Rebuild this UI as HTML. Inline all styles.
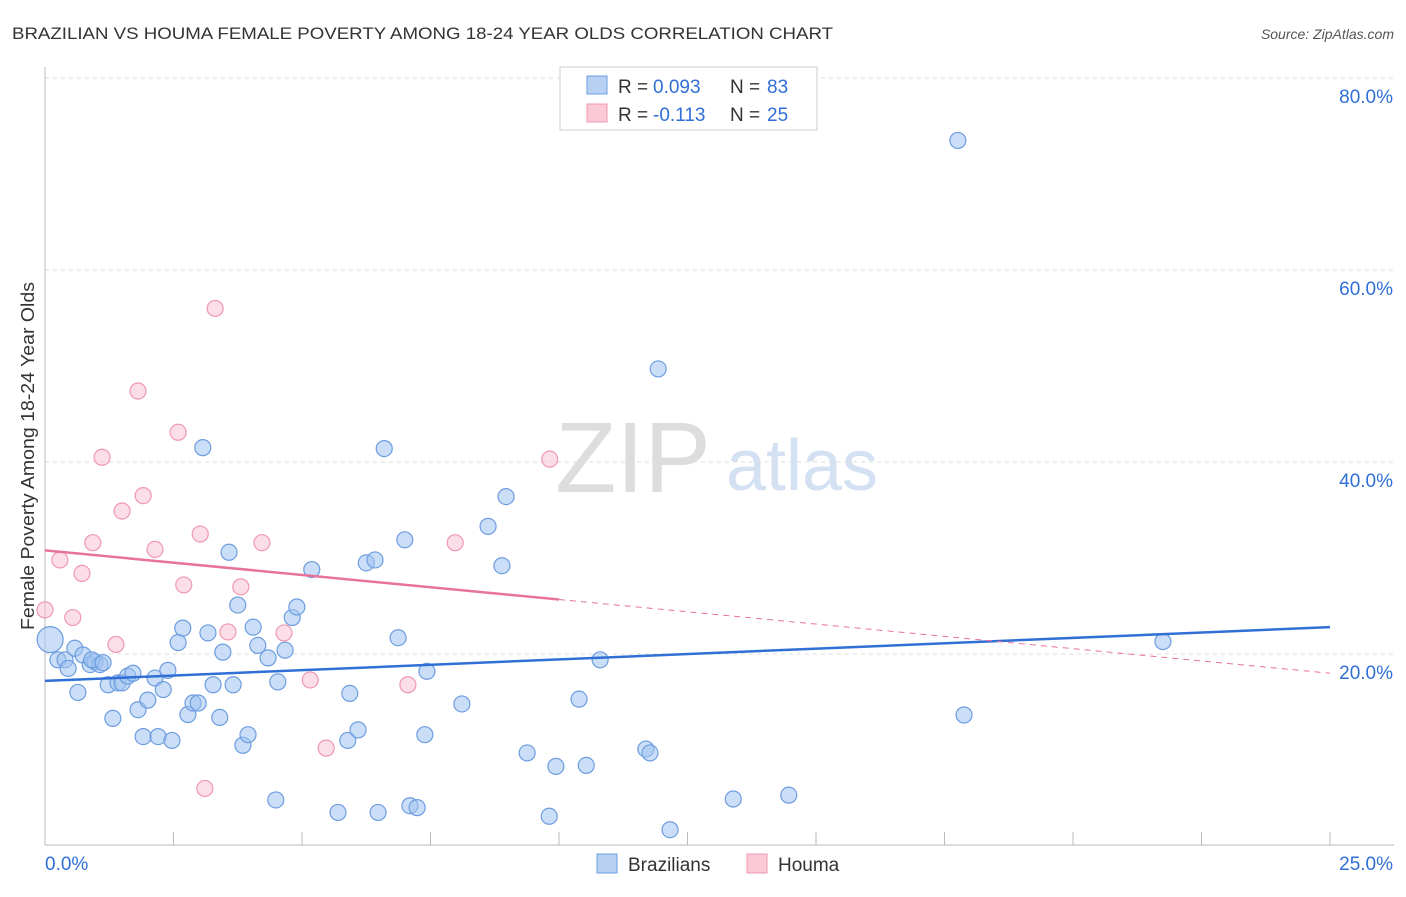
<!DOCTYPE html>
<html><head><meta charset="utf-8"><style>
body{margin:0;background:#fff;font-family:"Liberation Sans",sans-serif;}
svg text{font-family:"Liberation Sans",sans-serif;}
</style></head><body>
<svg id="c" width="1406" height="892">
<text x="12" y="39" font-size="17" fill="#333" textLength="821" lengthAdjust="spacingAndGlyphs">BRAZILIAN VS HOUMA FEMALE POVERTY AMONG 18-24 YEAR OLDS CORRELATION CHART</text>
<text x="1394" y="39" font-size="14" fill="#555" font-style="italic" text-anchor="end">Source: ZipAtlas.com</text>
<text transform="translate(34,630) rotate(-90)" font-size="18" fill="#333" textLength="348" lengthAdjust="spacingAndGlyphs">Female Poverty Among 18-24 Year Olds</text>
<g><text x="633" y="492" font-size="100" fill="#ddd" font-family="Liberation Serif" text-anchor="middle">ZIP</text><text x="802" y="490" font-size="72" fill="#d3e1f3" text-anchor="middle">atlas</text></g>
<g id="grid"></g><g id="pts"></g><g id="trend"></g>
<g>
<rect x="560" y="67" width="257" height="63" fill="#fff" stroke="#ccc"/>
<rect x="587" y="76" width="20" height="18" fill="#b8d1f3" stroke="#6d9de0"/>
<rect x="587" y="104" width="20" height="18" fill="#fbc8d6" stroke="#ef98b3"/>
<text x="618" y="93" font-size="19" fill="#333">R =</text><text x="653" y="93" font-size="19" fill="#2f6fd6">0.093</text>
<text x="730" y="93" font-size="19" fill="#333">N =</text><text x="767" y="93" font-size="19" fill="#2f6fd6">83</text>
<text x="618" y="121" font-size="19" fill="#333">R =</text><text x="653" y="121" font-size="19" fill="#2f6fd6">-0.113</text>
<text x="730" y="121" font-size="19" fill="#333">N =</text><text x="767" y="121" font-size="19" fill="#2f6fd6">25</text>
</g>
<g>
<rect x="597" y="854" width="20" height="19" fill="#b8d1f3" stroke="#6d9de0"/><text x="628" y="871" font-size="19" fill="#333">Brazilians</text>
<rect x="747" y="854" width="20" height="19" fill="#fbc8d6" stroke="#ef98b3"/><text x="778" y="871" font-size="19" fill="#333">Houma</text>
</g>
</svg>
<script>
const yTicks=[20,40,60,80];
const yTickLabels=["20.0%","40.0%","60.0%","80.0%"];
const xTicks=[0,2.5,5,7.5,10,12.5,15,17.5,20,22.5,25];
const blueX=[0.10,0.25,0.39,0.45,0.58,0.64,0.74,0.88,0.97,1.07,0.91,1.13,1.23,1.32,1.42,1.50,1.61,1.71,1.81,1.91,2.00,2.14,2.20,2.30,2.39,2.47,2.59,2.68,2.78,2.88,2.98,3.07,3.17,3.27,3.40,3.46,3.58,3.66,3.75,3.85,3.95,4.05,4.14,4.34,4.49,4.53,4.67,4.81,4.90,5.19,5.70,5.89,5.93,6.09,6.25,6.42,6.48,6.60,6.87,7.00,7.10,7.24,7.39,7.43,8.11,8.62,8.89,8.97,9.38,9.81,9.94,10.39,10.53,10.80,11.69,11.77,11.93,12.16,13.39,14.47,17.76,17.88,21.75];
const blueY=[21.6,19.5,19.5,18.6,20.7,16.1,20.0,19.0,19.3,19.0,19.5,19.2,16.9,13.4,17.1,17.1,17.8,18.1,14.3,11.5,15.3,17.6,11.5,16.4,18.4,11.1,21.3,22.8,13.8,15.0,15.0,41.6,22.3,16.9,13.5,20.3,30.7,16.9,25.2,10.6,11.7,22.9,21.0,19.7,4.9,17.2,20.5,23.9,25.0,28.9,3.6,11.1,16.0,12.2,29.6,29.9,3.6,41.5,21.8,32.0,4.3,4.1,11.7,18.3,14.9,33.4,29.3,36.5,9.8,3.2,8.4,15.4,8.5,19.5,10.2,9.8,49.8,1.8,5.0,5.4,73.6,13.75,21.4];
const pinkX=[0.0,0.29,0.54,0.72,0.93,1.11,1.38,1.50,1.81,1.91,2.14,2.59,2.70,3.02,3.31,3.56,3.81,4.22,4.65,5.16,5.47,7.06,7.98,9.82,3.11];
const pinkY=[24.7,29.9,23.9,28.5,31.7,40.6,21.1,35.0,47.5,36.6,31.0,43.2,27.3,32.6,56.1,22.4,27.1,31.7,22.3,17.4,10.3,16.9,31.7,40.4,6.1];
const blueTrend=[17.3,22.9];
const pinkTrend=[30.9,18.1];
const pinkSolidEnd=10;
const NS="http://www.w3.org/2000/svg";
const X=v=>45+v*51.4, Y=v=>847-v*9.6;
function mk(p,t,a){const e=document.createElementNS(NS,t);for(const k in a)e.setAttribute(k,a[k]);document.getElementById(p).appendChild(e);return e;}
yTicks.forEach((t,i)=>{
 const l=mk('grid','line',{x1:45,x2:1394,y1:Y(t)-1,y2:Y(t)-1,stroke:'#ddd','stroke-dasharray':'4,4'});
 
 
 const tx=mk('grid','text',{x:1393,y:Y(t)+24,'font-size':19,fill:'#2f6fd6','text-anchor':'end'});tx.textContent=yTickLabels[i];
 
 
});
const ax=mk('grid','line',{x1:45,x2:1394,y1:845,y2:845,stroke:'#bbb'});


const ay=mk('grid','line',{x1:45,x2:45,y1:67,y2:845,stroke:'#bbb'});


xTicks.forEach(t=>{const l=mk('grid','line',{x1:X(t),x2:X(t),y1:832,y2:845,stroke:'#bbb'});
 
 });
const x0=mk('grid','text',{x:45,y:870,'font-size':19,fill:'#2f6fd6'});x0.textContent='0.0%';


const x1=mk('grid','text',{x:1393,y:870,'font-size':19,fill:'#2f6fd6','text-anchor':'end'});x1.textContent='25.0%';


blueX.forEach((v,i)=>{const c=mk('pts','circle',{cx:X(v),cy:Y(blueY[i]),r:i==0?13:8,fill:'rgba(160,195,240,0.55)',stroke:'#6d9de0','stroke-width':1.2});
 
 });
pinkX.forEach((v,i)=>{const c=mk('pts','circle',{cx:X(v),cy:Y(pinkY[i]),r:8,fill:'rgba(250,190,210,0.5)',stroke:'#ef98b3','stroke-width':1.2});
 
 });
const bt=mk('trend','line',{x1:X(0),y1:Y(blueTrend[0]),x2:X(25),y2:Y(blueTrend[1]),stroke:'#2f6fd6','stroke-width':2.5});


const pm=pinkTrend[0]+(pinkTrend[1]-pinkTrend[0])*pinkSolidEnd/25;
const pt=mk('trend','line',{x1:X(0),y1:Y(pinkTrend[0]),x2:X(pinkSolidEnd),y2:Y(pm),stroke:'#e8739a','stroke-width':2.5});


const pd=mk('trend','line',{x1:X(pinkSolidEnd),y1:Y(pm),x2:X(25),y2:Y(pinkTrend[1]),stroke:'#e8739a','stroke-width':1,'stroke-dasharray':'6,5'});


</script>
</body></html>
